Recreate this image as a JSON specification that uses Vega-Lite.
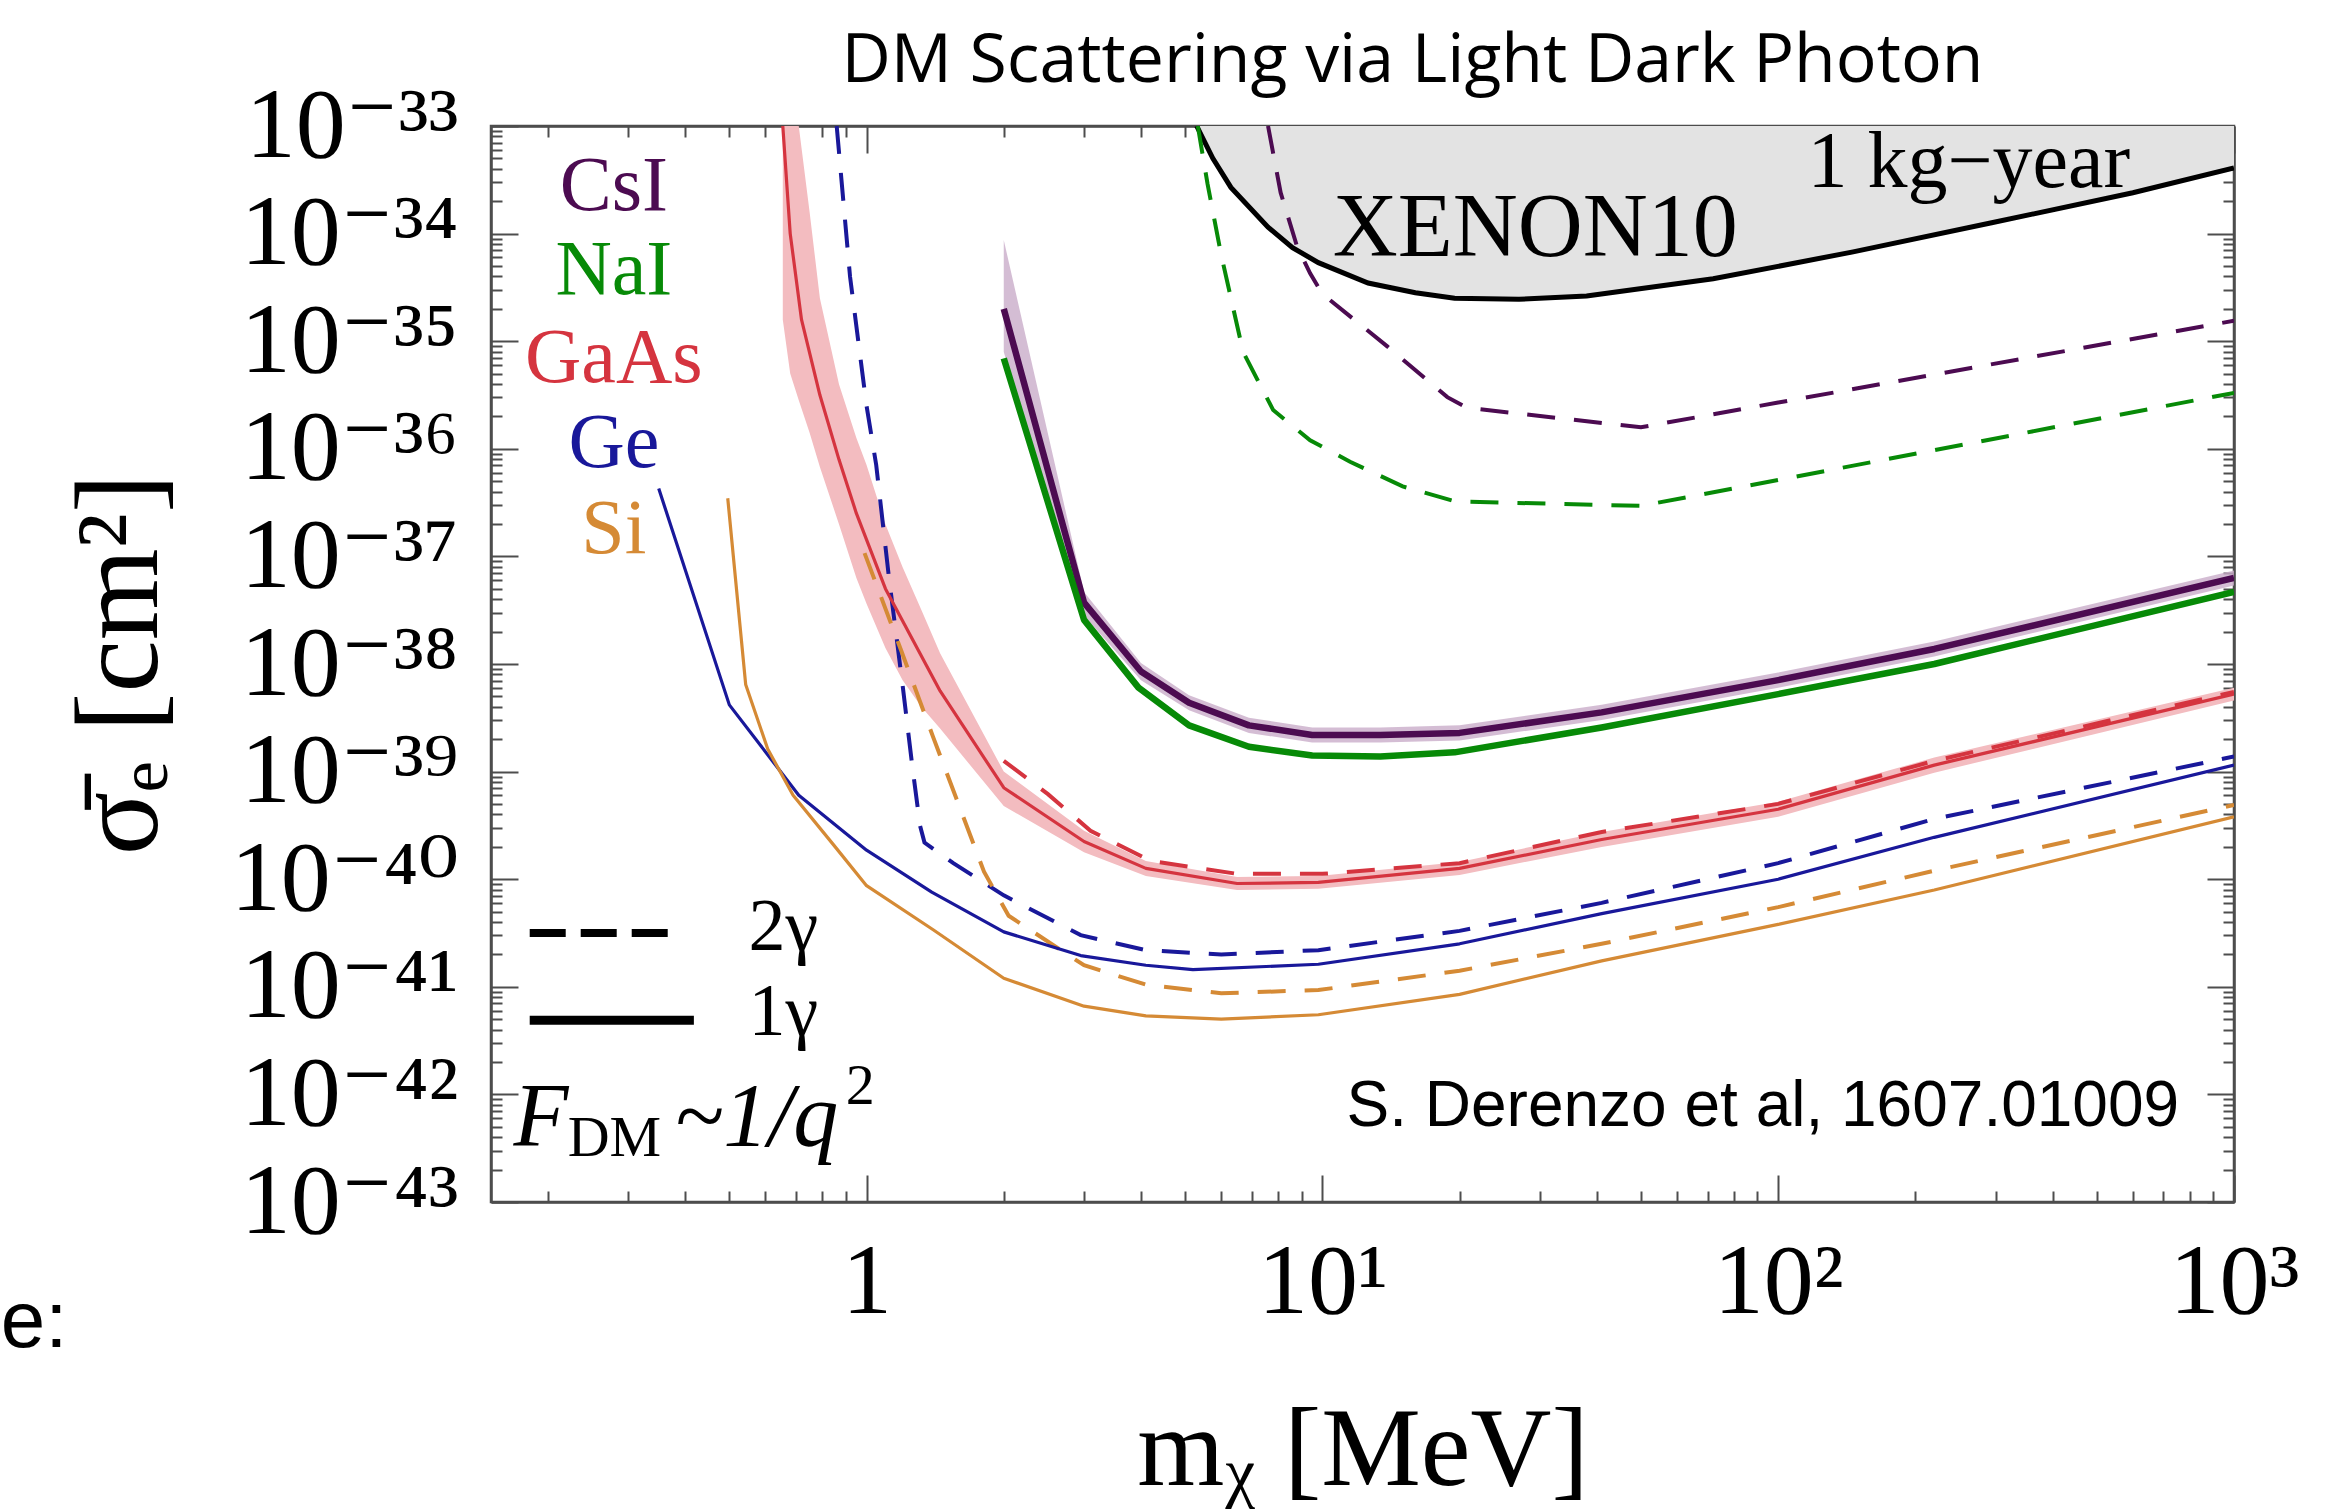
{
  "$schema": "https://vega.github.io/schema/vega-lite/v6.json",
  "width": 1743,
  "height": 1076,
  "autosize": {"type": "none"},
  "padding": {"left": 491, "top": 126, "right": 98, "bottom": 308},
  "background": "white",
  "config": {
    "view": {"stroke": "#4d4d4d", "strokeWidth": 2.5},
    "axis": {"grid": false, "domainColor": "#4d4d4d", "domainWidth": 2.5, "tickColor": "#4d4d4d", "tickWidth": 2, "labelColor": "black", "titleColor": "black", "labelFont": "Liberation Serif, DejaVu Serif", "titleFont": "Liberation Serif, DejaVu Serif", "titleFontWeight": "normal", "labelOverlap": false, "labelFlush": false, "labelBound": false, "labelLimit": 0}
  },
  "title": {"text": "DM Scattering via Light Dark Photon", "font": "Open Sans", "fontSize": 68, "fontWeight": "normal", "color": "black", "anchor": "middle", "dx": 50, "offset": -20},
  "datasets": {
    "xenon": [
      {"m": 5.3, "sigma": 1e-33}, {"m": 5.75, "sigma": 5.01e-34}, {"m": 6.3, "sigma": 2.69e-34}, {"m": 7.6, "sigma": 1.148e-34},
      {"m": 8.6, "sigma": 7.41e-35}, {"m": 9.8, "sigma": 5.37e-35}, {"m": 12.6, "sigma": 3.47e-35}, {"m": 16, "sigma": 2.82e-35},
      {"m": 19.5, "sigma": 2.51e-35}, {"m": 27, "sigma": 2.45e-35}, {"m": 38, "sigma": 2.63e-35}, {"m": 72, "sigma": 3.8e-35},
      {"m": 146, "sigma": 6.76e-35}, {"m": 294, "sigma": 1.26e-34}, {"m": 600, "sigma": 2.4e-34}, {"m": 1000, "sigma": 4.07e-34}
    ],
    "curves": [
      {"material": "CsI", "photons": "1γ", "m": 2.0, "sigma": 1.995e-35},
      {"material": "CsI", "photons": "1γ", "m": 3.0, "sigma": 3.72e-38},
      {"material": "CsI", "photons": "1γ", "m": 4.0, "sigma": 8.51e-39},
      {"material": "CsI", "photons": "1γ", "m": 5.1, "sigma": 4.37e-39},
      {"material": "CsI", "photons": "1γ", "m": 6.9, "sigma": 2.69e-39},
      {"material": "CsI", "photons": "1γ", "m": 9.5, "sigma": 2.19e-39},
      {"material": "CsI", "photons": "1γ", "m": 13.4, "sigma": 2.19e-39},
      {"material": "CsI", "photons": "1γ", "m": 20, "sigma": 2.29e-39},
      {"material": "CsI", "photons": "1γ", "m": 41, "sigma": 3.55e-39},
      {"material": "CsI", "photons": "1γ", "m": 100, "sigma": 7.08e-39},
      {"material": "CsI", "photons": "1γ", "m": 220, "sigma": 1.38e-38},
      {"material": "CsI", "photons": "1γ", "m": 1000, "sigma": 6.31e-38},
      {"material": "NaI", "photons": "1γ", "m": 2.0, "sigma": 6.92e-36},
      {"material": "NaI", "photons": "1γ", "m": 3.0, "sigma": 2.57e-38},
      {"material": "NaI", "photons": "1γ", "m": 3.95, "sigma": 6.03e-39},
      {"material": "NaI", "photons": "1γ", "m": 5.1, "sigma": 2.69e-39},
      {"material": "NaI", "photons": "1γ", "m": 6.9, "sigma": 1.7e-39},
      {"material": "NaI", "photons": "1γ", "m": 9.5, "sigma": 1.41e-39},
      {"material": "NaI", "photons": "1γ", "m": 13.4, "sigma": 1.38e-39},
      {"material": "NaI", "photons": "1γ", "m": 19.5, "sigma": 1.51e-39},
      {"material": "NaI", "photons": "1γ", "m": 41, "sigma": 2.57e-39},
      {"material": "NaI", "photons": "1γ", "m": 100, "sigma": 5.25e-39},
      {"material": "NaI", "photons": "1γ", "m": 220, "sigma": 1e-38},
      {"material": "NaI", "photons": "1γ", "m": 1000, "sigma": 4.68e-38},
      {"material": "GaAs", "photons": "1γ", "m": 0.655, "sigma": 1e-33},
      {"material": "GaAs", "photons": "1γ", "m": 0.68, "sigma": 1e-34},
      {"material": "GaAs", "photons": "1γ", "m": 0.72, "sigma": 1.585e-35},
      {"material": "GaAs", "photons": "1γ", "m": 0.79, "sigma": 3.16e-36},
      {"material": "GaAs", "photons": "1γ", "m": 0.87, "sigma": 7.94e-37},
      {"material": "GaAs", "photons": "1γ", "m": 0.95, "sigma": 2.51e-37},
      {"material": "GaAs", "photons": "1γ", "m": 1.1, "sigma": 5.01e-38},
      {"material": "GaAs", "photons": "1γ", "m": 1.2, "sigma": 2.51e-38},
      {"material": "GaAs", "photons": "1γ", "m": 1.45, "sigma": 5.62e-39},
      {"material": "GaAs", "photons": "1γ", "m": 2.0, "sigma": 7.08e-40},
      {"material": "GaAs", "photons": "1γ", "m": 3.0, "sigma": 2.24e-40},
      {"material": "GaAs", "photons": "1γ", "m": 4.1, "sigma": 1.26e-40},
      {"material": "GaAs", "photons": "1γ", "m": 6.5, "sigma": 9.12e-41},
      {"material": "GaAs", "photons": "1γ", "m": 9.8, "sigma": 9.33e-41},
      {"material": "GaAs", "photons": "1γ", "m": 20, "sigma": 1.26e-40},
      {"material": "GaAs", "photons": "1γ", "m": 41, "sigma": 2.34e-40},
      {"material": "GaAs", "photons": "1γ", "m": 100, "sigma": 4.47e-40},
      {"material": "GaAs", "photons": "1γ", "m": 220, "sigma": 1.148e-39},
      {"material": "GaAs", "photons": "1γ", "m": 1000, "sigma": 5.25e-39},
      {"material": "Ge", "photons": "1γ", "m": 0.35, "sigma": 4.27e-37},
      {"material": "Ge", "photons": "1γ", "m": 0.5, "sigma": 4.17e-39},
      {"material": "Ge", "photons": "1γ", "m": 0.71, "sigma": 6.03e-40},
      {"material": "Ge", "photons": "1γ", "m": 1.0, "sigma": 1.86e-40},
      {"material": "Ge", "photons": "1γ", "m": 1.39, "sigma": 7.59e-41},
      {"material": "Ge", "photons": "1γ", "m": 2.0, "sigma": 3.24e-41},
      {"material": "Ge", "photons": "1γ", "m": 2.95, "sigma": 1.95e-41},
      {"material": "Ge", "photons": "1γ", "m": 4.1, "sigma": 1.585e-41},
      {"material": "Ge", "photons": "1γ", "m": 5.2, "sigma": 1.445e-41},
      {"material": "Ge", "photons": "1γ", "m": 9.8, "sigma": 1.62e-41},
      {"material": "Ge", "photons": "1γ", "m": 20, "sigma": 2.51e-41},
      {"material": "Ge", "photons": "1γ", "m": 41, "sigma": 4.79e-41},
      {"material": "Ge", "photons": "1γ", "m": 100, "sigma": 1e-40},
      {"material": "Ge", "photons": "1γ", "m": 220, "sigma": 2.45e-40},
      {"material": "Ge", "photons": "1γ", "m": 1000, "sigma": 1.148e-39},
      {"material": "Si", "photons": "1γ", "m": 0.496, "sigma": 3.47e-37},
      {"material": "Si", "photons": "1γ", "m": 0.543, "sigma": 6.46e-39},
      {"material": "Si", "photons": "1γ", "m": 0.607, "sigma": 1.62e-39},
      {"material": "Si", "photons": "1γ", "m": 0.69, "sigma": 6.03e-40},
      {"material": "Si", "photons": "1γ", "m": 0.85, "sigma": 2.04e-40},
      {"material": "Si", "photons": "1γ", "m": 1.0, "sigma": 8.71e-41},
      {"material": "Si", "photons": "1γ", "m": 1.4, "sigma": 3.39e-41},
      {"material": "Si", "photons": "1γ", "m": 2.0, "sigma": 1.2e-41},
      {"material": "Si", "photons": "1γ", "m": 3.0, "sigma": 6.61e-42},
      {"material": "Si", "photons": "1γ", "m": 4.1, "sigma": 5.37e-42},
      {"material": "Si", "photons": "1γ", "m": 6.0, "sigma": 5.01e-42},
      {"material": "Si", "photons": "1γ", "m": 9.8, "sigma": 5.5e-42},
      {"material": "Si", "photons": "1γ", "m": 20, "sigma": 8.51e-42},
      {"material": "Si", "photons": "1γ", "m": 41, "sigma": 1.74e-41},
      {"material": "Si", "photons": "1γ", "m": 100, "sigma": 3.8e-41},
      {"material": "Si", "photons": "1γ", "m": 220, "sigma": 7.94e-41},
      {"material": "Si", "photons": "1γ", "m": 1000, "sigma": 3.8e-40},
      {"material": "CsI", "photons": "2γ", "m": 7.6, "sigma": 1e-33},
      {"material": "CsI", "photons": "2γ", "m": 8.1, "sigma": 2.4e-34},
      {"material": "CsI", "photons": "2γ", "m": 8.8, "sigma": 7.59e-35},
      {"material": "CsI", "photons": "2γ", "m": 9.4, "sigma": 4.27e-35},
      {"material": "CsI", "photons": "2γ", "m": 10, "sigma": 2.75e-35},
      {"material": "CsI", "photons": "2γ", "m": 13.9, "sigma": 8.91e-36},
      {"material": "CsI", "photons": "2γ", "m": 18.8, "sigma": 3.02e-36},
      {"material": "CsI", "photons": "2γ", "m": 20.8, "sigma": 2.4e-36},
      {"material": "CsI", "photons": "2γ", "m": 50, "sigma": 1.585e-36},
      {"material": "CsI", "photons": "2γ", "m": 100, "sigma": 2.69e-36},
      {"material": "CsI", "photons": "2γ", "m": 1000, "sigma": 1.549e-35},
      {"material": "NaI", "photons": "2γ", "m": 5.33, "sigma": 1e-33},
      {"material": "NaI", "photons": "2γ", "m": 5.6, "sigma": 2.88e-34},
      {"material": "NaI", "photons": "2γ", "m": 6.0, "sigma": 6.31e-35},
      {"material": "NaI", "photons": "2γ", "m": 6.7, "sigma": 7.94e-36},
      {"material": "NaI", "photons": "2γ", "m": 7.8, "sigma": 2.29e-36},
      {"material": "NaI", "photons": "2γ", "m": 9.4, "sigma": 1.2e-36},
      {"material": "NaI", "photons": "2γ", "m": 11.5, "sigma": 7.59e-37},
      {"material": "NaI", "photons": "2γ", "m": 15, "sigma": 4.47e-37},
      {"material": "NaI", "photons": "2γ", "m": 19.6, "sigma": 3.24e-37},
      {"material": "NaI", "photons": "2γ", "m": 50, "sigma": 2.95e-37},
      {"material": "NaI", "photons": "2γ", "m": 100, "sigma": 5.13e-37},
      {"material": "NaI", "photons": "2γ", "m": 1000, "sigma": 3.31e-36},
      {"material": "GaAs", "photons": "2γ", "m": 2.0, "sigma": 1.259e-39},
      {"material": "GaAs", "photons": "2γ", "m": 2.5, "sigma": 6.17e-40},
      {"material": "GaAs", "photons": "2γ", "m": 3.1, "sigma": 2.82e-40},
      {"material": "GaAs", "photons": "2γ", "m": 4.2, "sigma": 1.48e-40},
      {"material": "GaAs", "photons": "2γ", "m": 6.5, "sigma": 1.122e-40},
      {"material": "GaAs", "photons": "2γ", "m": 10, "sigma": 1.122e-40},
      {"material": "GaAs", "photons": "2γ", "m": 20, "sigma": 1.41e-40},
      {"material": "GaAs", "photons": "2γ", "m": 41, "sigma": 2.75e-40},
      {"material": "GaAs", "photons": "2γ", "m": 100, "sigma": 5.01e-40},
      {"material": "GaAs", "photons": "2γ", "m": 220, "sigma": 1.259e-39},
      {"material": "GaAs", "photons": "2γ", "m": 1000, "sigma": 5.5e-39},
      {"material": "Ge", "photons": "2γ", "m": 0.86, "sigma": 1e-33},
      {"material": "Ge", "photons": "2γ", "m": 0.92, "sigma": 3.98e-35},
      {"material": "Ge", "photons": "2γ", "m": 1.0, "sigma": 2.51e-36},
      {"material": "Ge", "photons": "2γ", "m": 1.05, "sigma": 7.08e-37},
      {"material": "Ge", "photons": "2γ", "m": 1.12, "sigma": 6.31e-38},
      {"material": "Ge", "photons": "2γ", "m": 1.2, "sigma": 6.31e-39},
      {"material": "Ge", "photons": "2γ", "m": 1.26, "sigma": 1.122e-39},
      {"material": "Ge", "photons": "2γ", "m": 1.31, "sigma": 3.16e-40},
      {"material": "Ge", "photons": "2γ", "m": 1.34, "sigma": 2.19e-40},
      {"material": "Ge", "photons": "2γ", "m": 1.55, "sigma": 1.41e-40},
      {"material": "Ge", "photons": "2γ", "m": 2.0, "sigma": 7.08e-41},
      {"material": "Ge", "photons": "2γ", "m": 2.95, "sigma": 3.02e-41},
      {"material": "Ge", "photons": "2γ", "m": 4.1, "sigma": 2.19e-41},
      {"material": "Ge", "photons": "2γ", "m": 6.0, "sigma": 1.995e-41},
      {"material": "Ge", "photons": "2γ", "m": 9.8, "sigma": 2.19e-41},
      {"material": "Ge", "photons": "2γ", "m": 20, "sigma": 3.31e-41},
      {"material": "Ge", "photons": "2γ", "m": 41, "sigma": 6.03e-41},
      {"material": "Ge", "photons": "2γ", "m": 100, "sigma": 1.41e-40},
      {"material": "Ge", "photons": "2γ", "m": 220, "sigma": 3.63e-40},
      {"material": "Ge", "photons": "2γ", "m": 1000, "sigma": 1.38e-39},
      {"material": "Si", "photons": "2γ", "m": 0.99, "sigma": 1.072e-37},
      {"material": "Si", "photons": "2γ", "m": 1.19, "sigma": 1.35e-38},
      {"material": "Si", "photons": "2γ", "m": 1.4, "sigma": 2.09e-39},
      {"material": "Si", "photons": "2γ", "m": 1.61, "sigma": 4.37e-40},
      {"material": "Si", "photons": "2γ", "m": 1.81, "sigma": 1.175e-40},
      {"material": "Si", "photons": "2γ", "m": 2.05, "sigma": 4.57e-41},
      {"material": "Si", "photons": "2γ", "m": 3.0, "sigma": 1.585e-41},
      {"material": "Si", "photons": "2γ", "m": 4.1, "sigma": 1.047e-41},
      {"material": "Si", "photons": "2γ", "m": 6.0, "sigma": 8.71e-42},
      {"material": "Si", "photons": "2γ", "m": 9.8, "sigma": 9.33e-42},
      {"material": "Si", "photons": "2γ", "m": 20, "sigma": 1.41e-41},
      {"material": "Si", "photons": "2γ", "m": 41, "sigma": 2.51e-41},
      {"material": "Si", "photons": "2γ", "m": 100, "sigma": 5.5e-41},
      {"material": "Si", "photons": "2γ", "m": 220, "sigma": 1.2e-40},
      {"material": "Si", "photons": "2γ", "m": 1000, "sigma": 4.9e-40}
    ],
    "bands": [
      {"material": "GaAs", "m": 0.655, "lo": 1.585e-35, "hi": 1e-33},
      {"material": "GaAs", "m": 0.68, "lo": 5.01e-36, "hi": 1e-33},
      {"material": "GaAs", "m": 0.71, "lo": 2.82e-36, "hi": 1e-33},
      {"material": "GaAs", "m": 0.75, "lo": 1.41e-36, "hi": 1.585e-34},
      {"material": "GaAs", "m": 0.79, "lo": 6.76e-37, "hi": 2.51e-35},
      {"material": "GaAs", "m": 0.87, "lo": 1.995e-37, "hi": 3.98e-36},
      {"material": "GaAs", "m": 0.95, "lo": 6.31e-38, "hi": 1.259e-36},
      {"material": "GaAs", "m": 1.0, "lo": 3.63e-38, "hi": 7.08e-37},
      {"material": "GaAs", "m": 1.1, "lo": 1.41e-38, "hi": 1.995e-37},
      {"material": "GaAs", "m": 1.2, "lo": 7.08e-39, "hi": 7.94e-38},
      {"material": "GaAs", "m": 1.32, "lo": 3.98e-39, "hi": 3.16e-38},
      {"material": "GaAs", "m": 1.45, "lo": 2.51e-39, "hi": 1.259e-38},
      {"material": "GaAs", "m": 2.0, "lo": 4.79e-40, "hi": 1e-39},
      {"material": "GaAs", "m": 3.0, "lo": 1.778e-40, "hi": 2.82e-40},
      {"material": "GaAs", "m": 4.1, "lo": 1.072e-40, "hi": 1.48e-40},
      {"material": "GaAs", "m": 6.5, "lo": 7.94e-41, "hi": 1.047e-40},
      {"material": "GaAs", "m": 9.8, "lo": 8.13e-41, "hi": 1.072e-40},
      {"material": "GaAs", "m": 20, "lo": 1.096e-40, "hi": 1.445e-40},
      {"material": "GaAs", "m": 41, "lo": 1.995e-40, "hi": 2.75e-40},
      {"material": "GaAs", "m": 100, "lo": 3.8e-40, "hi": 5.25e-40},
      {"material": "GaAs", "m": 220, "lo": 9.77e-40, "hi": 1.35e-39},
      {"material": "GaAs", "m": 1000, "lo": 4.57e-39, "hi": 6.03e-39},
      {"material": "CsI", "m": 2.0, "lo": 7.94e-36, "hi": 8.71e-35},
      {"material": "CsI", "m": 3.0, "lo": 2.82e-38, "hi": 4.68e-38},
      {"material": "CsI", "m": 4.0, "lo": 7.08e-39, "hi": 1.023e-38},
      {"material": "CsI", "m": 5.1, "lo": 3.72e-39, "hi": 5.13e-39},
      {"material": "CsI", "m": 6.9, "lo": 2.29e-39, "hi": 3.16e-39},
      {"material": "CsI", "m": 9.5, "lo": 1.86e-39, "hi": 2.57e-39},
      {"material": "CsI", "m": 13.4, "lo": 1.86e-39, "hi": 2.57e-39},
      {"material": "CsI", "m": 20, "lo": 1.95e-39, "hi": 2.69e-39},
      {"material": "CsI", "m": 41, "lo": 3.02e-39, "hi": 4.17e-39},
      {"material": "CsI", "m": 100, "lo": 6.03e-39, "hi": 8.32e-39},
      {"material": "CsI", "m": 220, "lo": 1.175e-38, "hi": 1.62e-38},
      {"material": "CsI", "m": 1000, "lo": 5.37e-38, "hi": 7.41e-38}
    ],
    "labels": [
      {"material": "CsI", "m": 0.279, "sigma": 1.66e-34},
      {"material": "NaI", "m": 0.279, "sigma": 2.75e-35},
      {"material": "GaAs", "m": 0.279, "sigma": 4.21e-36},
      {"material": "Ge", "m": 0.279, "sigma": 6.76e-37},
      {"material": "Si", "m": 0.279, "sigma": 1.072e-37}
    ]
  },
  "layer": [
    {
      "data": {"name": "xenon"},
      "mark": {"type": "area", "fill": "#e3e3e3", "clip": true},
      "encoding": {
        "x": {"field": "m", "type": "quantitative", "scale": {"type": "log", "domain": [0.15, 1000], "nice": false},
          "axis": {"orient": "bottom", "values": [0.2,0.3,0.4,0.5,0.6,0.7,0.8,0.9,1,2,3,4,5,6,7,8,9,10,20,30,40,50,60,70,80,90,100,200,300,400,500,600,700,800,900,1000],
            "labelExpr": "datum.value == 1 ? '1' : datum.value == 10 ? '10¹' : datum.value == 100 ? '10²' : datum.value == 1000 ? '10³' : ''",
            "tickSize": {"condition": {"test": "datum.value == 1 || datum.value == 10 || datum.value == 100 || datum.value == 1000", "value": -27}, "value": -11},
            "labelFontSize": 100, "labelPadding": 58, "title": "mᵪ [MeV]", "titleFontSize": 112, "titlePadding": 48}},
        "y": {"field": "sigma", "type": "quantitative", "scale": {"type": "log", "domain": [1e-43, 1e-33], "nice": false},
          "axis": {"orient": "left", "values": [1e-43,2e-43,3e-43,4e-43,5e-43,6e-43,7e-43,8e-43,9e-43,1e-42,2e-42,3e-42,4e-42,5e-42,6e-42,7e-42,8e-42,9e-42,1e-41,2e-41,3e-41,4e-41,5e-41,6e-41,7e-41,8e-41,9e-41,1e-40,2e-40,3e-40,4e-40,5e-40,6e-40,7e-40,8e-40,9e-40,1e-39,2e-39,3e-39,4e-39,5e-39,6e-39,7e-39,8e-39,9e-39,1e-38,2e-38,3e-38,4e-38,5e-38,6e-38,7e-38,8e-38,9e-38,1e-37,2e-37,3e-37,4e-37,5e-37,6e-37,7e-37,8e-37,9e-37,1e-36,2e-36,3e-36,4e-36,5e-36,6e-36,7e-36,8e-36,9e-36,1e-35,2e-35,3e-35,4e-35,5e-35,6e-35,7e-35,8e-35,9e-35,1e-34,2e-34,3e-34,4e-34,5e-34,6e-34,7e-34,8e-34,9e-34,1e-33],
            "labelExpr": "abs(log(datum.value)/LN10 - round(log(datum.value)/LN10)) < 0.01 ? '10⁻' + slice('⁰¹²³⁴⁵⁶⁷⁸⁹', floor((-round(log(datum.value)/LN10))/10), floor((-round(log(datum.value)/LN10))/10) + 1) + slice('⁰¹²³⁴⁵⁶⁷⁸⁹', (-round(log(datum.value)/LN10)) % 10, (-round(log(datum.value)/LN10)) % 10 + 1) : ''",
            "tickSize": {"condition": {"test": "abs(log(datum.value)/LN10 - round(log(datum.value)/LN10)) < 0.01", "value": -27}, "value": -11},
            "labelFontSize": 100, "labelPadding": 60, "title": "σ̄ₑ [cm²]", "titleFontSize": 118, "titlePadding": 110}},
        "y2": {"datum": 1e-33}
      }
    },
    {
      "data": {"name": "xenon"},
      "mark": {"type": "line", "color": "black", "strokeWidth": 5, "clip": true},
      "encoding": {
        "x": {"field": "m", "type": "quantitative", "scale": {"type": "log", "domain": [0.15, 1000], "nice": false},
          "axis": {"orient": "top", "labels": false, "title": null, "values": [0.2,0.3,0.4,0.5,0.6,0.7,0.8,0.9,1,2,3,4,5,6,7,8,9,10,20,30,40,50,60,70,80,90,100,200,300,400,500,600,700,800,900,1000],
            "tickSize": {"condition": {"test": "datum.value == 1 || datum.value == 10 || datum.value == 100 || datum.value == 1000", "value": -27}, "value": -11}}},
        "y": {"field": "sigma", "type": "quantitative", "scale": {"type": "log", "domain": [1e-43, 1e-33], "nice": false},
          "axis": {"orient": "right", "labels": false, "title": null, "values": [1e-43,2e-43,3e-43,4e-43,5e-43,6e-43,7e-43,8e-43,9e-43,1e-42,2e-42,3e-42,4e-42,5e-42,6e-42,7e-42,8e-42,9e-42,1e-41,2e-41,3e-41,4e-41,5e-41,6e-41,7e-41,8e-41,9e-41,1e-40,2e-40,3e-40,4e-40,5e-40,6e-40,7e-40,8e-40,9e-40,1e-39,2e-39,3e-39,4e-39,5e-39,6e-39,7e-39,8e-39,9e-39,1e-38,2e-38,3e-38,4e-38,5e-38,6e-38,7e-38,8e-38,9e-38,1e-37,2e-37,3e-37,4e-37,5e-37,6e-37,7e-37,8e-37,9e-37,1e-36,2e-36,3e-36,4e-36,5e-36,6e-36,7e-36,8e-36,9e-36,1e-35,2e-35,3e-35,4e-35,5e-35,6e-35,7e-35,8e-35,9e-35,1e-34,2e-34,3e-34,4e-34,5e-34,6e-34,7e-34,8e-34,9e-34,1e-33],
            "tickSize": {"condition": {"test": "abs(log(datum.value)/LN10 - round(log(datum.value)/LN10)) < 0.01", "value": -27}, "value": -11}}}
      }
    },
    {
      "data": {"name": "bands"},
      "transform": [{"filter": "datum.material == 'GaAs'"}],
      "mark": {"type": "area", "fill": "#f3bcc0", "clip": true},
      "encoding": {
        "x": {"field": "m", "type": "quantitative", "scale": {"type": "log", "domain": [0.15, 1000], "nice": false}, "axis": null},
        "y": {"field": "lo", "type": "quantitative", "scale": {"type": "log", "domain": [1e-43, 1e-33], "nice": false}, "axis": null},
        "y2": {"field": "hi"}
      }
    },
    {
      "data": {"name": "bands"},
      "transform": [{"filter": "datum.material == 'CsI'"}],
      "mark": {"type": "area", "fill": "#c9adc9", "opacity": 0.8, "clip": true},
      "encoding": {
        "x": {"field": "m", "type": "quantitative", "scale": {"type": "log", "domain": [0.15, 1000], "nice": false}, "axis": null},
        "y": {"field": "lo", "type": "quantitative", "scale": {"type": "log", "domain": [1e-43, 1e-33], "nice": false}, "axis": null},
        "y2": {"field": "hi"}
      }
    },
    {
      "data": {"name": "curves"},
      "transform": [{"filter": "datum.photons == '2γ'"}],
      "mark": {"type": "line", "strokeWidth": 4, "strokeDash": [28, 19], "clip": true},
      "encoding": {
        "x": {"field": "m", "type": "quantitative", "scale": {"type": "log", "domain": [0.15, 1000], "nice": false}, "axis": null},
        "y": {"field": "sigma", "type": "quantitative", "scale": {"type": "log", "domain": [1e-43, 1e-33], "nice": false}, "axis": null},
        "color": {"field": "material", "type": "nominal", "scale": {"domain": ["CsI", "NaI", "GaAs", "Ge", "Si"], "range": ["#4c0b51", "#078a07", "#d5343f", "#19189a", "#d58a35"]}, "legend": null}
      }
    },
    {
      "data": {"name": "curves"},
      "transform": [{"filter": "datum.photons == '1γ' && (datum.material == 'GaAs' || datum.material == 'Ge' || datum.material == 'Si')"}],
      "mark": {"type": "line", "strokeWidth": 3.2, "strokeJoin": "round", "clip": true},
      "encoding": {
        "x": {"field": "m", "type": "quantitative", "scale": {"type": "log", "domain": [0.15, 1000], "nice": false}, "axis": null},
        "y": {"field": "sigma", "type": "quantitative", "scale": {"type": "log", "domain": [1e-43, 1e-33], "nice": false}, "axis": null},
        "color": {"field": "material", "type": "nominal", "scale": {"domain": ["CsI", "NaI", "GaAs", "Ge", "Si"], "range": ["#4c0b51", "#078a07", "#d5343f", "#19189a", "#d58a35"]}, "legend": null}
      }
    },
    {
      "data": {"name": "curves"},
      "transform": [{"filter": "datum.photons == '1γ' && (datum.material == 'CsI' || datum.material == 'NaI')"}],
      "mark": {"type": "line", "strokeWidth": 6.5, "strokeJoin": "round", "clip": true},
      "encoding": {
        "x": {"field": "m", "type": "quantitative", "scale": {"type": "log", "domain": [0.15, 1000], "nice": false}, "axis": null},
        "y": {"field": "sigma", "type": "quantitative", "scale": {"type": "log", "domain": [1e-43, 1e-33], "nice": false}, "axis": null},
        "color": {"field": "material", "type": "nominal", "scale": {"domain": ["CsI", "NaI", "GaAs", "Ge", "Si"], "range": ["#4c0b51", "#078a07", "#d5343f", "#19189a", "#d58a35"]}, "legend": null}
      }
    },
    {
      "data": {"name": "labels"},
      "mark": {"type": "text", "font": "Liberation Serif", "fontSize": 78, "align": "center", "baseline": "alphabetic"},
      "encoding": {
        "x": {"field": "m", "type": "quantitative", "scale": {"type": "log", "domain": [0.15, 1000], "nice": false}, "axis": null},
        "y": {"field": "sigma", "type": "quantitative", "scale": {"type": "log", "domain": [1e-43, 1e-33], "nice": false}, "axis": null},
        "text": {"field": "material"},
        "color": {"field": "material", "type": "nominal", "scale": {"domain": ["CsI", "NaI", "GaAs", "Ge", "Si"], "range": ["#4c0b51", "#078a07", "#d5343f", "#19189a", "#d58a35"]}, "legend": null}
      }
    },
    {
      "data": {"values": [{"t": "XENON10", "m": 29.3, "sigma": 6.22e-35}]},
      "mark": {"type": "text", "font": "Liberation Serif", "fontSize": 90, "align": "center", "baseline": "alphabetic", "color": "black"},
      "encoding": {
        "x": {"field": "m", "type": "quantitative", "scale": {"type": "log", "domain": [0.15, 1000], "nice": false}, "axis": null},
        "y": {"field": "sigma", "type": "quantitative", "scale": {"type": "log", "domain": [1e-43, 1e-33], "nice": false}, "axis": null},
        "text": {"field": "t"}
      }
    },
    {
      "data": {"values": [{"t": "1 kg−year", "m": 262, "sigma": 2.71e-34}]},
      "mark": {"type": "text", "font": "Liberation Serif", "fontSize": 80, "align": "center", "baseline": "alphabetic", "color": "black"},
      "encoding": {
        "x": {"field": "m", "type": "quantitative", "scale": {"type": "log", "domain": [0.15, 1000], "nice": false}, "axis": null},
        "y": {"field": "sigma", "type": "quantitative", "scale": {"type": "log", "domain": [1e-43, 1e-33], "nice": false}, "axis": null},
        "text": {"field": "t"}
      }
    },
    {
      "data": {"values": [{"m": 0.1824, "m2": 0.376, "sigma": 3.16e-41}]},
      "mark": {"type": "rule", "color": "black", "strokeWidth": 8, "strokeDash": [36, 15]},
      "encoding": {
        "x": {"field": "m", "type": "quantitative", "scale": {"type": "log", "domain": [0.15, 1000], "nice": false}, "axis": null},
        "x2": {"field": "m2"},
        "y": {"field": "sigma", "type": "quantitative", "scale": {"type": "log", "domain": [1e-43, 1e-33], "nice": false}, "axis": null}
      }
    },
    {
      "data": {"values": [{"m": 0.1824, "m2": 0.418, "sigma": 4.9e-42}]},
      "mark": {"type": "rule", "color": "black", "strokeWidth": 9},
      "encoding": {
        "x": {"field": "m", "type": "quantitative", "scale": {"type": "log", "domain": [0.15, 1000], "nice": false}, "axis": null},
        "x2": {"field": "m2"},
        "y": {"field": "sigma", "type": "quantitative", "scale": {"type": "log", "domain": [1e-43, 1e-33], "nice": false}, "axis": null}
      }
    },
    {
      "data": {"values": [{"t": "2γ", "m": 0.551, "sigma": 2.19e-41}, {"t": "1γ", "m": 0.551, "sigma": 3.55e-42}]},
      "mark": {"type": "text", "font": "Liberation Serif", "fontSize": 74, "align": "left", "baseline": "alphabetic", "color": "black"},
      "encoding": {
        "x": {"field": "m", "type": "quantitative", "scale": {"type": "log", "domain": [0.15, 1000], "nice": false}, "axis": null},
        "y": {"field": "sigma", "type": "quantitative", "scale": {"type": "log", "domain": [1e-43, 1e-33], "nice": false}, "axis": null},
        "text": {"field": "t"}
      }
    },
    {
      "data": {"values": [{"t": "F", "m": 0.168, "sigma": 3.31e-43}, {"t": "~1/q", "m": 0.379, "sigma": 3.31e-43}]},
      "mark": {"type": "text", "font": "Liberation Serif", "fontSize": 90, "fontStyle": "italic", "align": "left", "baseline": "alphabetic", "color": "black"},
      "encoding": {
        "x": {"field": "m", "type": "quantitative", "scale": {"type": "log", "domain": [0.15, 1000], "nice": false}, "axis": null},
        "y": {"field": "sigma", "type": "quantitative", "scale": {"type": "log", "domain": [1e-43, 1e-33], "nice": false}, "axis": null},
        "text": {"field": "t"}
      }
    },
    {
      "data": {"values": [{"t": "DM", "m": 0.221, "sigma": 2.69e-43}, {"t": "2", "m": 0.9, "sigma": 8.13e-43}]},
      "mark": {"type": "text", "font": "Liberation Serif", "fontSize": 58, "align": "left", "baseline": "alphabetic", "color": "black"},
      "encoding": {
        "x": {"field": "m", "type": "quantitative", "scale": {"type": "log", "domain": [0.15, 1000], "nice": false}, "axis": null},
        "y": {"field": "sigma", "type": "quantitative", "scale": {"type": "log", "domain": [1e-43, 1e-33], "nice": false}, "axis": null},
        "text": {"field": "t"}
      }
    },
    {
      "data": {"values": [{"t": "S. Derenzo et al, 1607.01009", "m": 758, "sigma": 5.13e-43}]},
      "mark": {"type": "text", "font": "Liberation Sans", "fontSize": 64, "align": "right", "baseline": "alphabetic", "color": "black"},
      "encoding": {
        "x": {"field": "m", "type": "quantitative", "scale": {"type": "log", "domain": [0.15, 1000], "nice": false}, "axis": null},
        "y": {"field": "sigma", "type": "quantitative", "scale": {"type": "log", "domain": [1e-43, 1e-33], "nice": false}, "axis": null},
        "text": {"field": "t"}
      }
    },
    {
      "data": {"values": [{"t": "e:", "m": 0.0126, "sigma": 4.47e-45}]},
      "mark": {"type": "text", "font": "Liberation Sans", "fontSize": 80, "align": "left", "baseline": "alphabetic", "color": "black"},
      "encoding": {
        "x": {"field": "m", "type": "quantitative", "scale": {"type": "log", "domain": [0.15, 1000], "nice": false}, "axis": null},
        "y": {"field": "sigma", "type": "quantitative", "scale": {"type": "log", "domain": [1e-43, 1e-33], "nice": false}, "axis": null},
        "text": {"field": "t"}
      }
    }
  ],
  "resolve": {"axis": {"x": "independent", "y": "independent"}}
}
